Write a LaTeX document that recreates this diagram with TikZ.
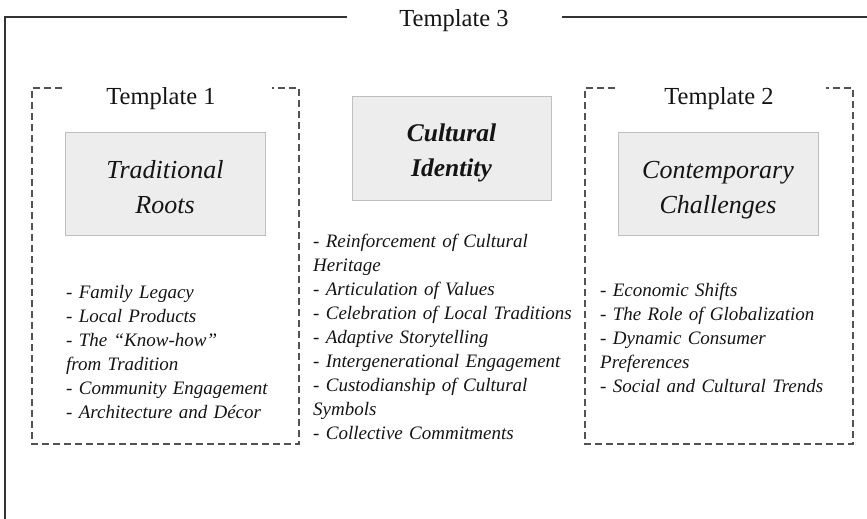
\documentclass[tikz,border=0pt]{standalone}
\usepackage{fontspec}
\setmainfont{Liberation Serif}
\begin{document}
\begin{tikzpicture}[x=1pt,y=-1pt,
  frame/.style={draw=black!80, line width=1.3pt},
  tbox/.style={draw=black!68, dash pattern=on 7pt off 4pt, line width=1.2pt},
  graybox/.style={draw=black!25, fill=black!7, line width=1.2pt, inner sep=0pt, anchor=north west},
  ttl/.style={font=\fontsize{24.5}{29}\selectfont, text=black!92, inner sep=0pt, anchor=base},
  boxtext/.style={font=\fontsize{26}{35.5}\selectfont\itshape, text=black!92, inner sep=0pt, anchor=base, align=center, text width=198pt},
  listtext/.style={font=\fontsize{19}{24}\selectfont\itshape, text=black!92, inner sep=0pt, anchor=base west, align=left, text width=300pt}
]
\useasboundingbox (0,0) rectangle (867,519);

% outer frame (Template 3)
\node[ttl] (t3) at (454,27) {Template 3};
\draw[frame] (347,17) -- (5,17) -- (5,519);
\draw[frame] (562,17) -- (867,17);

% Template 1 dashed box
\node[ttl] (t1) at (161,104) {Template 1};
\draw[tbox] (62,88) -- (32,88) -- (32,444) -- (299,444) -- (299,88) -- (272,88);

% Template 2 dashed box
\node[ttl] (t2) at (719,104) {Template 2};
\draw[tbox] (615,88) -- (585,88) -- (585,444) -- (853,444) -- (853,88) -- (826,88);

% gray boxes
\node[graybox, minimum width=200pt, minimum height=103pt] (roots) at (65,132) {};
\node[graybox, minimum width=199pt, minimum height=104pt] (identity) at (352,96) {};
\node[graybox, minimum width=200pt, minimum height=103pt] (challenges) at (618,132) {};

\node[boxtext] (rootstxt) at (165,178) {Traditional\\Roots};
\node[boxtext, font=\fontsize{25.5}{35.5}\selectfont\bfseries\itshape] (identitytxt) at (451.5,141) {Cultural\\Identity};
\node[boxtext] (challengestxt) at (718,178) {Contemporary\\Challenges};

% lists
\node[listtext] (list1) at (66,298) {- Family Legacy\\- Local Products\\- The “Know-how”\\from Tradition\\- Community Engagement\\- Architecture and Décor};
\node[listtext] (list2) at (313,247) {- Reinforcement of Cultural\\Heritage\\- Articulation of Values\\- Celebration of Local Traditions\\- Adaptive Storytelling\\- Intergenerational Engagement\\- Custodianship of Cultural\\Symbols\\- Collective Commitments};
\node[listtext] (list3) at (600,296) {- Economic Shifts\\- The Role of Globalization\\- Dynamic Consumer\\Preferences\\- Social and Cultural Trends};
\end{tikzpicture}
\end{document}
